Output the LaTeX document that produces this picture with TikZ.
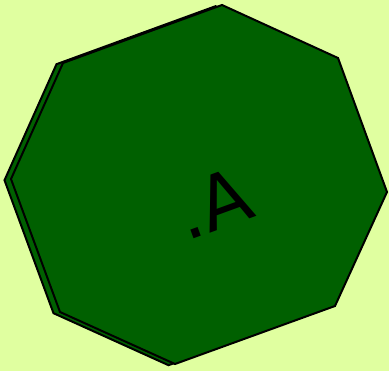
\documentclass[tikz,border=0pt]{standalone}
\usepackage{fontspec}
\setmainfont{DejaVu Sans}
\usetikzlibrary{positioning}
\definecolor{paleback}{RGB}{224,255,160}
\definecolor{octgreen}{RGB}{0,96,0}
\newcommand{\octapath}{(222,5) -- (338,58) -- (387,192) -- (335,306)
  -- (175,364) -- (60,312) -- (11,179) -- (63,63) -- cycle}

\begin{document}
\begin{tikzpicture}[
  x=0.75pt, y=-0.75pt,
  octa/.style={
    fill=octgreen, draw=black, line width=1.5pt
  }
]
  % background
  \fill[paleback] (0,0) rectangle (389,371);
  \useasboundingbox (0,0) rectangle (389,371);

  % shadow copy behind, then the front one
  \begin{scope}[shift={(-6.5,1.2)}]
    \draw[octa] \octapath;
  \end{scope}
  \draw[octa] \octapath;

  \node[anchor=base, rotate=20, inner sep=0pt,
        font=\fontsize{56}{66}\selectfont] (label) at (222,229) {.A};
\end{tikzpicture}
\end{document}
